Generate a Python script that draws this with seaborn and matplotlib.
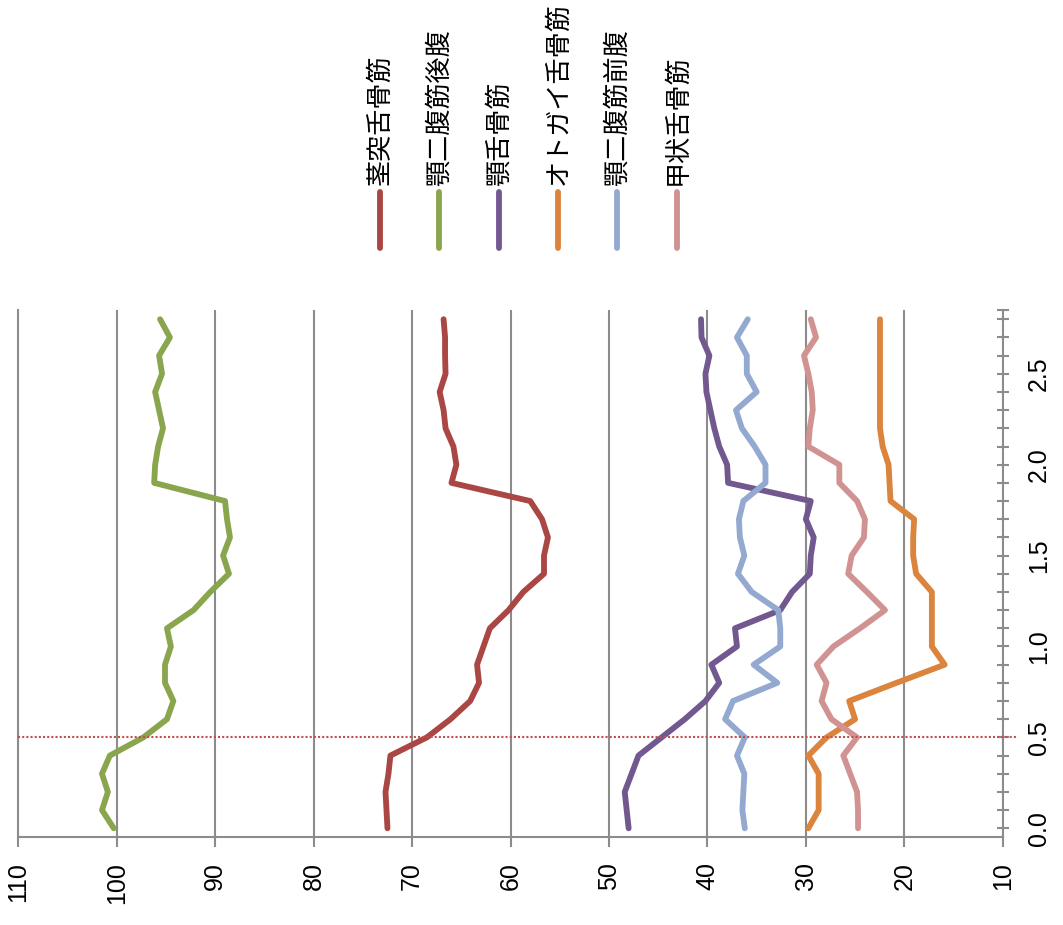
import numpy as np
import pandas as pd
import matplotlib
matplotlib.use("Agg")
import matplotlib.pyplot as plt
from matplotlib.lines import Line2D
import seaborn as sns

# Depth along the muscle path (category positions)
depth = [0.0, 0.1, 0.2, 0.3, 0.4, 0.5, 0.6, 0.7, 0.8, 0.9,
         1.0, 1.1, 1.2, 1.3, 1.4, 1.5, 1.6, 1.7, 1.8, 1.9,
         2.0, 2.1, 2.2, 2.3, 2.4, 2.5, 2.6, 2.7, 2.8]

muscles = ["茎突舌骨筋", "顎二腹筋後腹", "顎舌骨筋", "オトガイ舌骨筋", "顎二腹筋前腹", "甲状舌骨筋"]

stylohyoid = [72.5, 72.6, 72.7, 72.4, 72.2, 68.5, 66.1, 64.1, 63.2, 63.4,
              62.75, 62.1, 60.2, 58.7, 56.6, 56.6, 56.2, 56.8, 58.0, 66.0,
              65.5, 65.8, 66.6, 66.8, 67.2, 66.6, 66.65, 66.65, 66.8]
digastric_post = [100.3, 101.5, 100.9, 101.5, 100.7, 97.3, 94.9, 94.25, 95.1, 95.1,
                  94.5, 94.9, 92.2, 90.5, 88.6, 89.2, 88.5, 88.8, 89.0, 96.2,
                  96.1, 95.8, 95.3, 95.7, 96.1, 95.4, 95.7, 94.6, 95.6]
mylohyoid = [48.0, 48.2, 48.4, 47.7, 47.0, 44.65, 42.3, 40.2, 38.8, 39.6,
             37.0, 37.2, 32.6, 31.4, 29.6, 29.5, 29.2, 30.0, 29.5, 37.9,
             38.0, 38.8, 39.3, 39.7, 40.1, 40.2, 39.8, 40.6, 40.65]
geniohyoid = [29.75, 28.7, 28.7, 28.7, 29.75, 27.9, 25.0, 25.6, 20.8, 15.9,
              17.2, 17.2, 17.2, 17.2, 18.8, 19.1, 19.1, 19.0, 21.4, 21.5,
              21.6, 22.2, 22.47, 22.47, 22.47, 22.47, 22.47, 22.47, 22.47]
digastric_ant = [36.2, 36.45, 36.35, 36.25, 37.0, 36.2, 38.2, 37.4, 32.9, 35.3,
                 32.6, 32.6, 32.8, 35.5, 36.9, 36.25, 36.7, 36.8, 36.35, 34.1,
                 34.1, 35.2, 36.5, 37.1, 35.0, 36.0, 36.0, 37.0, 35.9]
thyrohyoid = [24.7, 24.7, 24.8, 25.5, 26.2, 24.8, 27.4, 28.4, 27.9, 28.9,
              27.2, 24.5, 21.96, 23.8, 25.7, 25.35, 24.1, 24.0, 24.8, 26.6,
              26.6, 29.75, 29.6, 29.3, 29.4, 29.75, 30.19, 28.97, 29.5]

colors = ["#AA4643", "#89A54E", "#71588F", "#DB843D", "#93A9CF", "#D19392"]

series = [stylohyoid, digastric_post, mylohyoid, geniohyoid, digastric_ant, thyrohyoid]
df = pd.concat(
    [pd.DataFrame({"muscle": m, "depth": depth, "value": v}) for m, v in zip(muscles, series)],
    ignore_index=True,
)

sns.set_style("white")
plt.rcParams["font.family"] = ["Liberation Sans", "Noto Sans CJK JP", "DejaVu Sans"]
plt.rcParams["text.color"] = "black"
plt.rcParams["xtick.labelcolor"] = "black"
plt.rcParams["ytick.labelcolor"] = "black"

GRID = "#8c8c8c"
LW = 4.2

fig = plt.figure(figsize=(10.63, 9.25), dpi=100)
ax = fig.add_axes([0.01722, 0.0955, 0.9261, 0.5694])

sns.lineplot(data=df, x="value", y="depth", hue="muscle", hue_order=muscles,
             palette=colors, orient="y", estimator=None, legend=False,
             linewidth=LW, ax=ax)
for ln in ax.lines:
    ln.set_solid_capstyle("round")
    ln.set_solid_joinstyle("round")

ax.set_xlim(110, 10)
ax.set_ylim(-0.046, 2.851)
ax.set_xlabel("")
ax.set_ylabel("")

# value axis (horizontal)
ax.set_xticks(np.arange(10, 111, 10))
ax.xaxis.grid(True, color=GRID, linewidth=1.5)
ax.yaxis.grid(False)
ax.tick_params(axis="x", direction="out", length=7.2, width=1.5, color=GRID,
               labelsize=18, labelrotation=90, pad=11, bottom=True,
               labelcolor="black")

# depth axis (vertical, on the right)
ax.yaxis.tick_right()
ax.set_yticks([0.0, 0.5, 1.0, 1.5, 2.0, 2.5])
ax.set_yticklabels(["0.0", "0.5", "1.0", "1.5", "2.0", "2.5"])
ax.set_yticks(list(np.round(np.arange(0, 29) * 0.1, 1)) + [2.85], minor=True)
ax.tick_params(axis="y", which="both", direction="inout", length=9, width=1.5,
               color=GRID, right=True, left=False)
ax.tick_params(axis="y", which="major", labelsize=18, labelrotation=90, pad=13,
               labelcolor="black")
for lab in ax.get_yticklabels():
    lab.set_verticalalignment("center")

for side in ["left", "right", "bottom"]:
    ax.spines[side].set_visible(True)
    ax.spines[side].set_color(GRID)
    ax.spines[side].set_linewidth(1.5)
ax.spines["top"].set_visible(False)

# reference depth marker
ax.axhline(0.5, xmin=0, xmax=1.0142, color="#C0504D", linewidth=1.5,
           linestyle=(0, (1, 1)), clip_on=False, zorder=5)

# legend: vertical swatches with rotated labels
x0, dx = 380 / 1063, 59.35 / 1063
for i, (name, col) in enumerate(zip(muscles, colors)):
    xc = x0 + i * dx
    fig.add_artist(Line2D([xc, xc], [1 - 248 / 925, 1 - 192 / 925], color=col,
                          linewidth=LW, solid_capstyle="round"))
    fig.text(xc, 1 - 185 / 925, name, rotation=90, ha="center", va="bottom",
             fontsize=18.8, color="black",
             family=["Noto Sans CJK JP", "DejaVu Sans"])

fig.savefig("out.png", dpi=100)
